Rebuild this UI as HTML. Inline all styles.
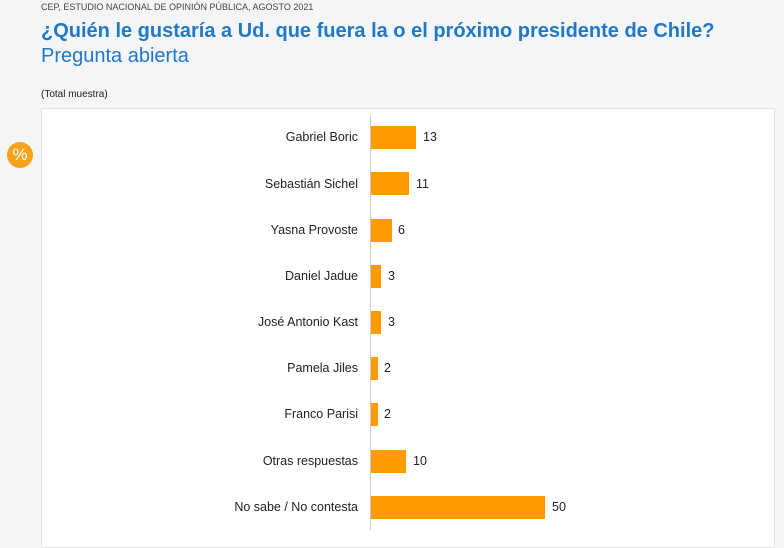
<!DOCTYPE html>
<html><head><meta charset="utf-8"><style>
body{margin:0;width:784px;height:548px;background:#f4f5f7;font-family:"Liberation Sans",sans-serif;position:relative;overflow:hidden}
.a{position:absolute;white-space:nowrap}
</style></head><body>
<div class="a" style="left:41px;top:2px;font-size:9px;color:#444">CEP, ESTUDIO NACIONAL DE OPINIÓN PÚBLICA, AGOSTO 2021</div>
<div class="a" style="left:41px;top:20px;font-size:20px;font-weight:bold;color:#1f78c8">¿Quién le gustaría a Ud. que fuera la o el próximo presidente de Chile?</div>
<div class="a" style="left:41px;top:45px;font-size:20px;color:#1f78c8">Pregunta abierta</div>
<div class="a" style="left:41px;top:89px;font-size:10px;color:#222">(Total muestra)</div>
<div class="a" style="left:7px;top:142px;width:26px;height:26px;border-radius:50%;background:#f7a21b;color:#fff;font-size:17px;text-align:center;line-height:26px">%</div>
<div class="a" style="left:41px;top:108px;width:734px;height:440px;background:#fff;border:1px solid #e2e4e8;box-sizing:border-box"></div>
<svg class="a" style="left:0;top:0" width="784" height="548" font-family="Liberation Sans, sans-serif" font-size="12.5" fill="#222">
<line x1="370.5" y1="115" x2="370.5" y2="530" stroke="#ccc"/>
<g id="r"></g>
<g>
<rect x="371" y="126" width="45" height="23" fill="#ff9a00"/><text x="358" y="141" text-anchor="end">Gabriel Boric</text><text x="423" y="141">13</text>
<rect x="371" y="172" width="38" height="23" fill="#ff9a00"/><text x="358" y="188" text-anchor="end">Sebastián Sichel</text><text x="416" y="188">11</text>
<rect x="371" y="219" width="21" height="23" fill="#ff9a00"/><text x="358" y="234" text-anchor="end">Yasna Provoste</text><text x="398" y="234">6</text>
<rect x="371" y="265" width="10" height="23" fill="#ff9a00"/><text x="358" y="280" text-anchor="end">Daniel Jadue</text><text x="388" y="280">3</text>
<rect x="371" y="311" width="10" height="23" fill="#ff9a00"/><text x="358" y="326" text-anchor="end">José Antonio Kast</text><text x="388" y="326">3</text>
<rect x="371" y="357" width="7" height="23" fill="#ff9a00"/><text x="358" y="372" text-anchor="end">Pamela Jiles</text><text x="384" y="372">2</text>
<rect x="371" y="403" width="7" height="23" fill="#ff9a00"/><text x="358" y="418" text-anchor="end">Franco Parisi</text><text x="384" y="418">2</text>
<rect x="371" y="450" width="35" height="23" fill="#ff9a00"/><text x="358" y="465" text-anchor="end">Otras respuestas</text><text x="413" y="465">10</text>
<rect x="371" y="496" width="174" height="23" fill="#ff9a00"/><text x="358" y="511" text-anchor="end">No sabe / No contesta</text><text x="552" y="511">50</text>
</g>
</svg>
</body></html>
